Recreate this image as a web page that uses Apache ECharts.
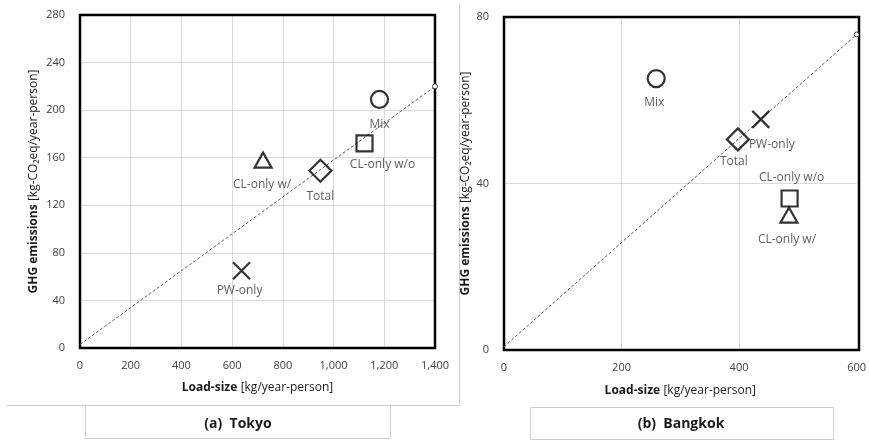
<!DOCTYPE html>
<html><head><meta charset="utf-8">
<script src="https://cdn.jsdelivr.net/npm/echarts@6/dist/echarts.min.js"></script>
<style>html,body{margin:0;padding:0;background:#fff}#c{width:869px;height:442px}</style>
</head><body><div id="c"></div>
<script>
// ---- data ----
const categories = ['PW-only', 'CL-only w/', 'CL-only w/o', 'Mix', 'Total'];
const tokyoLoad = [637, 722, 1122, 1181, 948];
const tokyoGHG = [65, 158, 172, 209, 149];
const bangkokLoad = [437, 485, 486, 259, 398];
const bangkokGHG = [55.4, 32.4, 36.4, 65.2, 50.6];
const tokyoTrend = [[0, 3], [1400, 220]];
const bangkokTrend = [[0, 0.8], [600, 75.8]];
const tokyoXTicks = [0, 200, 400, 600, 800, 1000, 1200, 1400];
const tokyoYTicks = [0, 40, 80, 120, 160, 200, 240, 280];
const bangkokXTicks = [0, 200, 400, 600];
const bangkokYTicks = [0, 40, 80];
const captions = ['(a)  Tokyo', '(b)  Bangkok'];

// ---- styles ----
const FONT = 'Open Sans';
const symbolFor = {
  'PW-only': { symbol: 'path://M0,0L20,20M20,0L0,20', size: 17 },
  'CL-only w/': { symbol: 'triangle', size: [17, 15] },
  'CL-only w/o': { symbol: 'rect', size: 16 },
  'Mix': { symbol: 'circle', size: 17 },
  'Total': { symbol: 'diamond', size: 22 }
};
const tokyoLabelOffsets = { 'PW-only': [-2, 20], 'CL-only w/': [-1, 24], 'CL-only w/o': [18, 21], 'Mix': [0, 25], 'Total': [0, 26] };
const bangkokLabelOffsets = { 'PW-only': [11, 25], 'CL-only w/': [-2, 24], 'CL-only w/o': [2, -21], 'Mix': [-2, 24], 'Total': [-4, 22] };

function points(xs, ys, offsets) {
  return categories.map((c, i) => ({
    name: c,
    value: [xs[i], ys[i]],
    symbol: symbolFor[c].symbol,
    symbolSize: symbolFor[c].size,
    label: { offset: offsets[c] }
  }));
}
function trend(arr) {
  return arr.map((p, i) => ({ value: p, symbol: i === arr.length - 1 ? 'circle' : 'none', symbolSize: 5 }));
}
const fmt = v => Number(v).toLocaleString('en-US');
const axisLabel = { color: '#404040', fontFamily: FONT, fontSize: 11, formatter: fmt };
const rich = {
  b: { fontWeight: 'bold', fontSize: 12, fontFamily: FONT, color: '#1a1a1a' },
  r: { fontSize: 12, fontFamily: FONT, color: '#1a1a1a' }
};
const splitLine = { show: true, showMinLine: false, showMaxLine: false, lineStyle: { color: '#d9d9d9', width: 1 } };

function xAxis(idx, ticks, gap) {
  return {
    type: 'value', gridIndex: idx, min: ticks[0], max: ticks[ticks.length - 1], interval: ticks[1] - ticks[0],
    axisLine: { show: false }, axisTick: { show: false }, splitLine,
    axisLabel: Object.assign({ margin: 12 }, axisLabel),
    name: '{b|Load-size} {r|[kg/year-person]}', nameLocation: 'middle', nameGap: gap,
    nameTextStyle: { rich }
  };
}
function yAxis(idx, ticks, gap) {
  return {
    type: 'value', gridIndex: idx, min: ticks[0], max: ticks[ticks.length - 1], interval: ticks[1] - ticks[0],
    axisLine: { show: false }, axisTick: { show: false }, splitLine,
    axisLabel: Object.assign({ margin: 15 }, axisLabel),
    name: '{b|GHG emissions} {r|[kg-CO\u2082eq/year-person]}', nameLocation: 'middle', nameGap: gap,
    nameTextStyle: { rich }
  };
}
function scatter(idx, data) {
  return {
    type: 'scatter', xAxisIndex: idx, yAxisIndex: idx, data, z: 5,
    itemStyle: { color: 'rgba(255,255,255,0)', borderColor: '#000', borderWidth: 2.2 },
    label: { show: true, position: 'inside', formatter: '{b}', color: '#333', fontFamily: FONT, fontSize: 12 },
    emphasis: { disabled: true }
  };
}
function trendSeries(idx, data) {
  return {
    type: 'line', xAxisIndex: idx, yAxisIndex: idx, data, z: 4,
    lineStyle: { color: '#595959', width: 1, type: [3, 2] },
    itemStyle: { color: '#fff', borderColor: '#404040', borderWidth: 1 },
    emphasis: { disabled: true }, silent: true
  };
}

const chart = echarts.init(document.getElementById('c'), null, { renderer: 'canvas' });
chart.setOption({
  animation: false,
  grid: [
    { left: 80, top: 15, width: 355, height: 333, show: false },
    { left: 504, top: 17, width: 355, height: 333, show: false }
  ],
  xAxis: [xAxis(0, tokyoXTicks, 34), xAxis(1, bangkokXTicks, 35)],
  yAxis: [yAxis(0, tokyoYTicks, 40), yAxis(1, bangkokYTicks, 32)],
  series: [
    trendSeries(0, trend(tokyoTrend)),
    scatter(0, points(tokyoLoad, tokyoGHG, tokyoLabelOffsets)),
    trendSeries(1, trend(bangkokTrend)),
    scatter(1, points(bangkokLoad, bangkokGHG, bangkokLabelOffsets))
  ],
  graphic: [
    { type: 'line', shape: { x1: 459.5, y1: 4, x2: 459.5, y2: 405.5 }, style: { stroke: '#d0d0d0', lineWidth: 1 }, z: 0 },
    { type: 'line', shape: { x1: 7, y1: 405.5, x2: 459.5, y2: 405.5 }, style: { stroke: '#d0d0d0', lineWidth: 1 }, z: 0 },
    { type: 'rect', shape: { x: 85.5, y: 405.5, width: 305, height: 33 }, style: { fill: 'none', stroke: '#d0d0d0', lineWidth: 1 }, z: 0 },
    { type: 'rect', shape: { x: 530.5, y: 407.5, width: 303, height: 32 }, style: { fill: 'none', stroke: '#d0d0d0', lineWidth: 1 }, z: 0 },
    { type: 'rect', shape: { x: 80, y: 15, width: 355, height: 333 }, style: { fill: 'none', stroke: '#000', lineWidth: 2.5 }, z: 2 },
    { type: 'rect', shape: { x: 504, y: 17, width: 355, height: 333 }, style: { fill: 'none', stroke: '#000', lineWidth: 2.5 }, z: 2 },
    { type: 'text', x: 238, y: 424, style: { text: captions[0], font: 'bold 14px "Open Sans"', fill: '#1a1a1a', textAlign: 'center', textVerticalAlign: 'middle' } },
    { type: 'text', x: 681, y: 424, style: { text: captions[1], font: 'bold 14px "Open Sans"', fill: '#1a1a1a', textAlign: 'center', textVerticalAlign: 'middle' } }
  ]
});
</script></body></html>
